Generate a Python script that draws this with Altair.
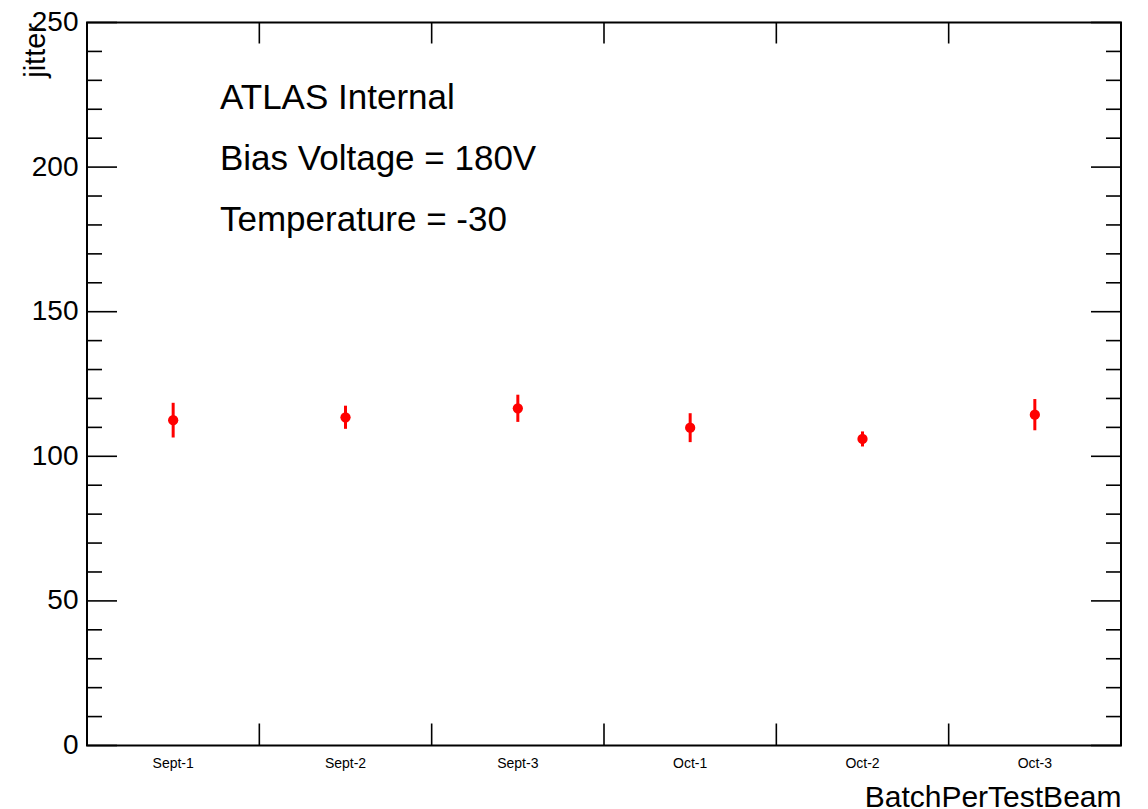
import altair as alt
import pandas as pd

# ---- data ----
batches = ["Sept-1", "Sept-2", "Sept-3", "Oct-1", "Oct-2", "Oct-3"]
jitter = [112.5, 113.5, 116.6, 109.9, 106.0, 114.4]
jitter_err = [6.0, 4.0, 4.7, 5.0, 2.6, 5.4]

y_major = [0, 50, 100, 150, 200, 250]
y_minor = [10, 20, 30, 40, 60, 70, 80, 90, 110, 120, 130, 140,
           160, 170, 180, 190, 210, 220, 230, 240]
notes = ["ATLAS Internal", "Bias Voltage = 180V", "Temperature = -30"]

FONT = "Liberation Sans"
W, H = 1034, 723

pts = pd.DataFrame({
    "batch": batches,
    "jitter": jitter,
    "lo": [v - e for v, e in zip(jitter, jitter_err)],
    "hi": [v + e for v, e in zip(jitter, jitter_err)],
})

xscale = alt.Scale(type="band", domain=batches, paddingInner=0, paddingOuter=0)
yscale = alt.Scale(domain=[0, 250], nice=False, zero=False)

xaxis = alt.Axis(
    title="BatchPerTestBeam", labelFont=FONT, labelFontSize=14, labelColor="black",
    labelPadding=11, labelAngle=0, ticks=False, domain=False, grid=False,
    titleFont=FONT, titleFontSize=30, titleFontWeight="normal", titleColor="black",
    titleAlign="right", titleAnchor="end", titleX=W, titleY=60.5,
    titleBaseline="alphabetic",
)
yaxis = alt.Axis(
    title="jitter", values=y_major, labelFont=FONT, labelFontSize=28,
    labelColor="black", labelPadding=9, labelFlush=False, labelOverlap=False,
    labelBaseline="middle", ticks=False, domain=False, grid=False,
    titleFont=FONT, titleFontSize=29, titleFontWeight="normal", titleColor="black",
    titleAngle=270, titleAlign="right", titleBaseline="alphabetic",
    titleX=-42.5, titleY=0,
)

X = lambda **kw: alt.X("batch:N", scale=xscale, axis=xaxis, **kw)
Yv = lambda f: alt.Y(f, scale=yscale, axis=yaxis)

bars = alt.Chart(pts).mark_rule(color="#ff0000", strokeWidth=3).encode(
    x=X(), y=Yv("lo:Q"), y2="hi:Q"
)
dots = alt.Chart(pts).mark_circle(color="#ff0000", size=105, opacity=1).encode(
    x=X(), y=Yv("jitter:Q")
)

major_df = pd.DataFrame({"v": y_major})
minor_df = pd.DataFrame({"v": y_minor})
tick_style = dict(color="black", strokeWidth=1.6)

ly_major = alt.Chart(major_df).mark_rule(**tick_style).encode(
    y=Yv("v:Q"), x=alt.value(0), x2=alt.value(30))
ly_minor = alt.Chart(minor_df).mark_rule(**tick_style).encode(
    y=Yv("v:Q"), x=alt.value(0), x2=alt.value(15))
ry_major = alt.Chart(major_df).mark_rule(**tick_style).encode(
    y=Yv("v:Q"), x=alt.value(W), x2=alt.value(W - 30))
ry_minor = alt.Chart(minor_df).mark_rule(**tick_style).encode(
    y=Yv("v:Q"), x=alt.value(W), x2=alt.value(W - 15))

bound_df = pd.DataFrame({"batch": batches[1:]})
bx_ticks = alt.Chart(bound_df).mark_rule(**tick_style).encode(
    x=X(bandPosition=0), y=alt.value(H), y2=alt.value(H - 22))
tx_ticks = alt.Chart(bound_df).mark_rule(**tick_style).encode(
    x=X(bandPosition=0), y=alt.value(0), y2=alt.value(21))

texts = []
for note, ypix in zip(notes, [86.8, 147.5, 208.2]):
    texts.append(
        alt.Chart(pd.DataFrame({"t": [note]})).mark_text(
            font=FONT, fontSize=35, color="black", align="left",
            baseline="alphabetic"
        ).encode(text="t:N", x=alt.value(133.0), y=alt.value(ypix))
    )

chart = alt.layer(
    ly_major, ly_minor, ry_major, ry_minor, bx_ticks, tx_ticks, bars, dots, *texts
).properties(
    width=W, height=H,
    autosize=alt.AutoSizeParams(type="none"),
    padding={"left": 79, "top": 14.5, "right": 12, "bottom": 63},
    background="white",
).configure_view(stroke="black", strokeWidth=2)

chart.save("out.html", embed_options={"renderer": "svg", "actions": False})
